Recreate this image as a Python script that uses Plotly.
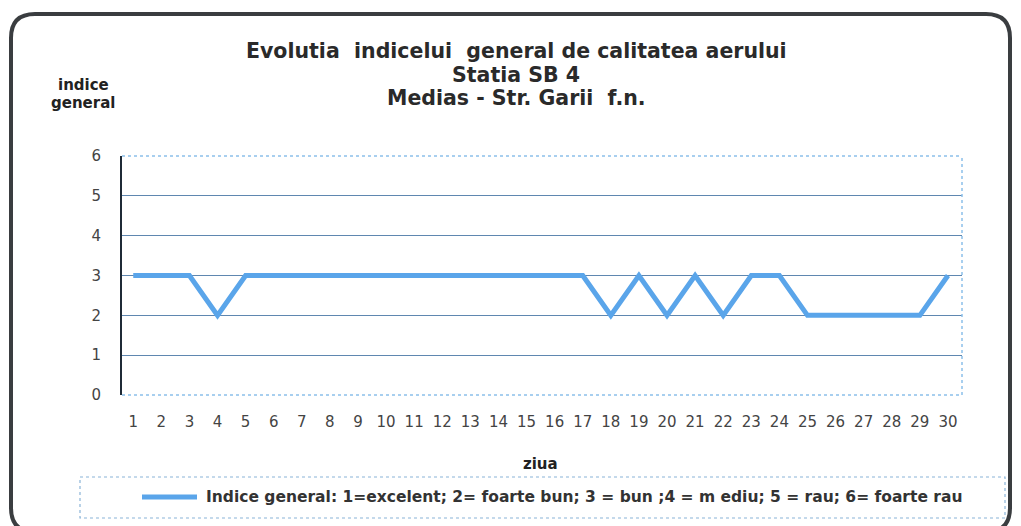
import plotly.graph_objects as go

days = list(range(1, 31))
indice = [3, 3, 3, 2, 3, 3, 3, 3, 3, 3, 3, 3, 3, 3, 3, 3, 3, 2, 3, 2,
          3, 2, 3, 3, 2, 2, 2, 2, 2, 3]
y_ticks = [0, 1, 2, 3, 4, 5, 6]
series_name = "Indice general: 1=excelent; 2= foarte bun; 3 = bun ;4 = m ediu; 5 = rau; 6= foarte rau"
titles = ["Evolutia  indicelui  general de calitatea aerului", "Statia SB 4", "Medias - Str. Garii  f.n."]
y_title = ["indice", "general"]
x_title = "ziua"

OFF = 8  # browser body margin
W, H = 1021 - OFF, 526 - OFF
# plot area in page pixels
PL, PR, PT, PB = 122, 962, 156, 395
L, R, T, B = PL - OFF, PR - OFF, PT - OFF, PB - OFF

def px_x(v):  # page px -> paper
    return (v - OFF - L) / (R - L)

def px_y(v):
    return (B - (v - OFF)) / (B - T)

FONT = "DejaVu Sans, Liberation Sans, sans-serif"

fig = go.Figure()
fig.add_trace(go.Scatter(
    x=days, y=indice, mode="lines", name=series_name,
    line=dict(color="#5aa5ea", width=5), showlegend=False,
))

fig.update_layout(
    width=W, height=H,
    margin=dict(l=L, r=W - R, t=T, b=H - B),
    paper_bgcolor="white", plot_bgcolor="white",
    font=dict(family=FONT, color="#333"),
    showlegend=False,
)
fig.update_xaxes(
    range=[0.6, 30.5], tickmode="array", tickvals=days,
    ticktext=[str(d) for d in days], showgrid=False, zeroline=False,
    showline=False, ticks="", tickfont=dict(size=15, color="#444"),
    ticklabelstandoff=16,
)
fig.update_yaxes(
    range=[0, 6], tickmode="array", tickvals=y_ticks,
    showgrid=True, gridcolor="#5f87b0", gridwidth=1, zeroline=False,
    showline=True, linecolor="#1f2a36", linewidth=2, ticks="",
    tickfont=dict(size=15, color="#444"), ticklabelstandoff=16,
)

# plot area border (light blue dotted top, bottom, right)
for (xa, xb, ya, yb) in [(0, 1, 1, 1), (0, 1, 0, 0), (1, 1, 0, 1)]:
    fig.add_shape(type="line", xref="paper", yref="paper", x0=xa, x1=xb, y0=ya, y1=yb,
                  line=dict(color="#8cc0ea", width=1.5, dash="dot"))

# titles
for i, t in enumerate(titles):
    fig.add_annotation(text=t, xref="paper", yref="paper",
                       x=px_x(516), y=px_y(51 + i * 23.5),
                       showarrow=False, font=dict(size=20.5, color="#2a2a2a", weight="bold"),
                       xanchor="center", yanchor="middle")
for i, t in enumerate(y_title):
    fig.add_annotation(text=t, xref="paper", yref="paper",
                       x=px_x(83), y=px_y(85 + i * 18),
                       showarrow=False, font=dict(size=15, color="#222", weight="bold"),
                       xanchor="center", yanchor="middle")
fig.add_annotation(text=x_title, xref="paper", yref="paper",
                   x=px_x(540), y=px_y(464), showarrow=False,
                   font=dict(size=15, color="#222", weight="bold"),
                   xanchor="center", yanchor="middle")

# legend box
fig.add_shape(type="rect", xref="paper", yref="paper", x0=px_x(80), x1=px_x(1005),
              y0=px_y(477), y1=px_y(518), line=dict(color="#8ab4d8", width=1.2, dash="dot"))
fig.add_shape(type="line", xref="paper", yref="paper", x0=px_x(142), x1=px_x(197),
              y0=px_y(497), y1=px_y(497), line=dict(color="#5aa5ea", width=5))
fig.add_annotation(text=series_name, xref="paper", yref="paper",
                   x=px_x(204), y=px_y(497), showarrow=False, xanchor="left", yanchor="middle",
                   font=dict(size=15.5, color="#333", weight="bold"))

# outer rounded frame
x0, y0, x1, y1, r = 11, 14, 1010, 532, 24
path = (f"M {px_x(x0+r)},{px_y(y0)} L {px_x(x1-r)},{px_y(y0)} "
        f"Q {px_x(x1)},{px_y(y0)} {px_x(x1)},{px_y(y0+r)} "
        f"L {px_x(x1)},{px_y(y1-r)} Q {px_x(x1)},{px_y(y1)} {px_x(x1-r)},{px_y(y1)} "
        f"L {px_x(x0+r)},{px_y(y1)} Q {px_x(x0)},{px_y(y1)} {px_x(x0)},{px_y(y1-r)} "
        f"L {px_x(x0)},{px_y(y0+r)} Q {px_x(x0)},{px_y(y0)} {px_x(x0+r)},{px_y(y0)} Z")
fig.add_shape(type="path", xref="paper", yref="paper", path=path,
              line=dict(color="#3a3d40", width=4))

fig.write_html("out.html")
